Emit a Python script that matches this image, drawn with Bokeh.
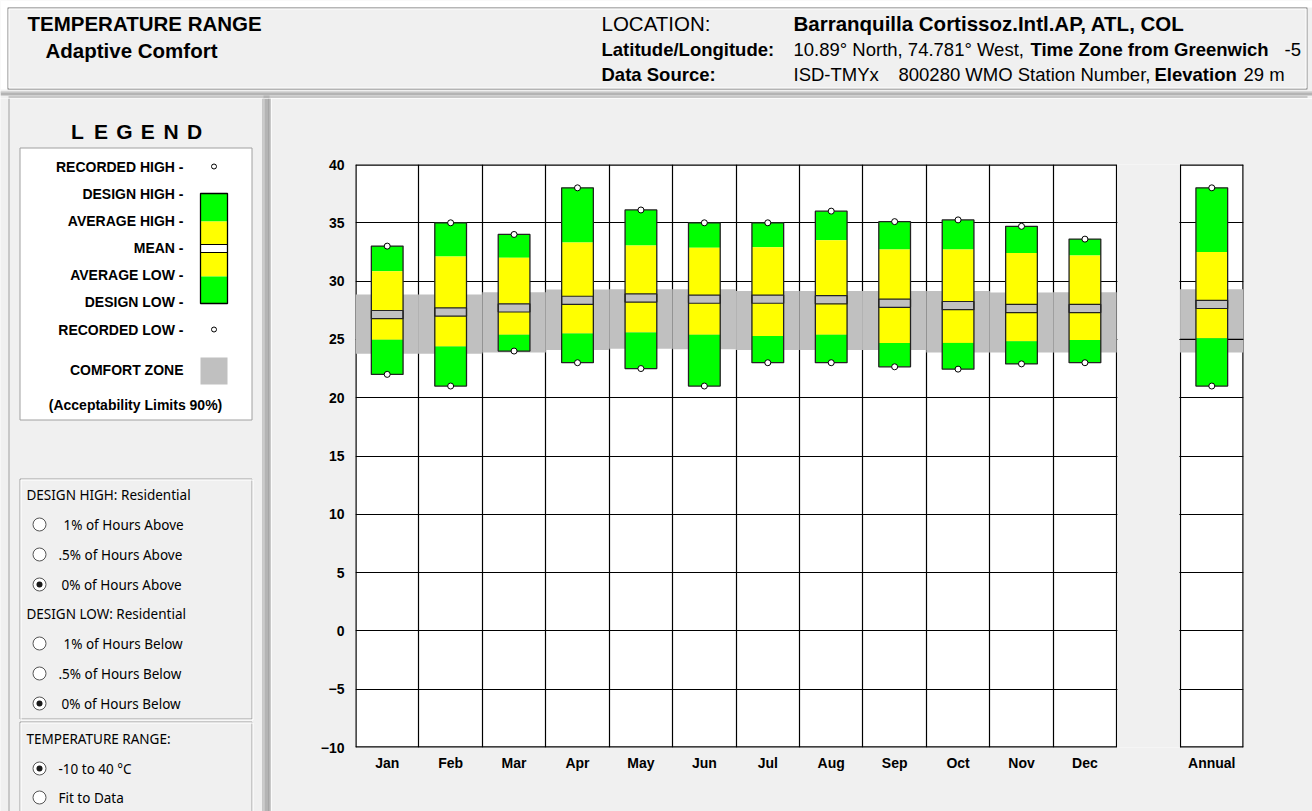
from bokeh.plotting import figure
from bokeh.layouts import column, row
from bokeh.models import Range1d, FixedTicker
from bokeh.embed import file_html
from bokeh.resources import INLINE
from bokeh.core.properties import value

# ---------------- data ----------------
months = ["Jan", "Feb", "Mar", "Apr", "May", "Jun", "Jul", "Aug", "Sep", "Oct", "Nov", "Dec"]
categories = months + ["Annual"]
recorded_high = [33.0, 35.0, 34.0, 38.0, 36.1, 35.0, 35.0, 36.0, 35.1, 35.25, 34.7, 33.6, 38.0]
design_high = [33.0, 35.0, 34.0, 38.0, 36.1, 35.0, 35.0, 36.0, 35.1, 35.25, 34.7, 33.6, 38.0]
average_high = [30.85, 32.1, 32.0, 33.3, 33.05, 32.85, 32.9, 33.5, 32.7, 32.7, 32.4, 32.2, 32.5]
mean_temp = [27.13, 27.35, 27.7, 28.35, 28.55, 28.45, 28.45, 28.4, 28.1, 27.9, 27.65, 27.65, 28.0]
average_low = [24.96, 24.4, 25.4, 25.5, 25.6, 25.4, 25.3, 25.4, 24.7, 24.7, 24.85, 24.95, 25.1]
design_low = [22.0, 21.0, 24.0, 23.0, 22.5, 21.0, 23.0, 23.0, 22.65, 22.45, 22.9, 23.0, 21.0]
recorded_low = [22.0, 21.0, 24.0, 23.0, 22.5, 21.0, 23.0, 23.0, 22.65, 22.45, 22.9, 23.0, 21.0]
comfort_high = [28.85, 28.85, 29.04, 29.27, 29.3, 29.3, 29.16, 29.16, 29.16, 29.16, 29.02, 29.04, 29.3]
comfort_low = [23.76, 23.76, 23.88, 24.1, 24.19, 24.16, 24.1, 24.1, 24.1, 23.88, 23.88, 23.88, 23.88]
y_ticks = [-10, -5, 0, 5, 10, 15, 20, 25, 30, 35, 40]

# ---------------- styles ----------------
BG = "#f0f0f0"
GREEN = "#00ff00"
YELLOW = "#ffff00"
GREY = "#c0c0c0"
EDGE = "#a0a0a0"
ARIAL = value("Liberation Sans")
UI = value("Noto Sans")
MEAN_HALF = 0.35


def no_align(f):
    try:
        f.frame_align = False
    except Exception:
        pass


def deco_fig(w, h):
    f = figure(width=w, height=h, x_range=Range1d(0, w), y_range=Range1d(h, 0),
               min_border=0, toolbar_location=None, output_backend="svg",
               x_axis_type=None, y_axis_type=None)
    f.grid.visible = False
    f.outline_line_color = None
    f.background_fill_color = BG
    f.border_fill_color = BG
    no_align(f)
    return f


def htext(f, x, y, t, size, bold=False, align="left", font=ARIAL):
    f.text(x=[x], y=[y], text=[t], text_font=font, text_font_size=size,
           text_font_style="bold" if bold else "normal", text_align=align,
           text_baseline="middle", text_color="black")


# ---------------- header (page y 0..98) ----------------
H = deco_fig(1312, 98)
H.quad(left=[0], right=[1312], top=[0], bottom=[7], fill_color="white", line_color=None)
H.quad(left=[0], right=[7], top=[0], bottom=[89], fill_color="white", line_color=None)
H.quad(left=[7.5], right=[1306.5], top=[7.5], bottom=[88.5], fill_color=BG, line_color=EDGE, line_width=1.3)
H.quad(left=[8.5], right=[1305.5], top=[8.5], bottom=[87.5], fill_color=None, line_color="white", line_width=1)
H.quad(left=[0], right=[1312], top=[91], bottom=[95], fill_color="#b4b4b4", line_color=None)
H.segment(x0=[0], x1=[1312], y0=[91.5], y1=[91.5], line_color="#dcdcdc", line_width=1)
H.segment(x0=[8], x1=[1307], y0=[96.5], y1=[96.5], line_color=EDGE, line_width=1)
H.quad(left=[263], right=[269], top=[95], bottom=[98], fill_color="#b4b4b4", line_color=None)

htext(H, 27, 23, "TEMPERATURE RANGE", "20.5px", True)
htext(H, 45, 50, "Adaptive Comfort", "20.5px", True)
htext(H, 601, 23, "LOCATION:", "20.5px", False)
htext(H, 793, 23, "Barranquilla Cortissoz.Intl.AP, ATL, COL", "20.5px", True)
htext(H, 601, 49, "Latitude/Longitude:", "18.5px", True)
htext(H, 793, 49, "10.89° North, 74.781° West,", "18.5px", False)
htext(H, 1030, 49, "Time Zone from Greenwich", "18.5px", True)
htext(H, 1284, 49, "-5", "18.5px", False)
htext(H, 601, 74, "Data Source:", "18.5px", True)
htext(H, 793, 74, "ISD-TMYx", "18.5px", False)
htext(H, 898, 74, "800280 WMO Station Number,", "18.5px", False)
htext(H, 1154, 74, "Elevation", "18.5px", True)
htext(H, 1243, 74, "29 m", "18.5px", False)

# ---------------- left panel (page x 0..271, y 98..811) ----------------
L = deco_fig(271, 713)
L.segment(x0=[8.5], x1=[8.5], y0=[0], y1=[713], line_color=EDGE)
L.segment(x0=[262.5], x1=[262.5], y0=[0], y1=[713], line_color=EDGE)
L.quad(left=[263], right=[269], top=[0], bottom=[713], fill_color="#b4b4b4", line_color=None)
L.segment(x0=[263.5], x1=[263.5], y0=[0], y1=[713], line_color="#d8d8d8")
L.segment(x0=[268.5], x1=[268.5], y0=[0], y1=[713], line_color="#999999")
L.segment(x0=[270.5], x1=[270.5], y0=[0], y1=[713], line_color=EDGE)

legend_letters = ["L", "E", "G", "E", "N", "D"]
L.text(x=[77, 100.4, 123.8, 147.2, 170.6, 194], y=[33] * 6, text=legend_letters,
       text_font=ARIAL, text_font_size="21px", text_font_style="bold",
       text_align="center", text_baseline="middle")

L.quad(left=[19.5], right=[251.5], top=[49.5], bottom=[321.5], fill_color="white", line_color=EDGE)
legend_labels = ["RECORDED HIGH -", "DESIGN HIGH -", "AVERAGE HIGH -", "MEAN -",
                 "AVERAGE LOW -", "DESIGN LOW -", "RECORDED LOW -"]
L.text(x=[183] * 7, y=[68, 95, 122, 149, 176, 203, 231], text=legend_labels,
       text_font=ARIAL, text_font_size="14px", text_font_style="bold",
       text_align="right", text_baseline="middle")
htext(L, 183, 271, "COMFORT ZONE", "14px", True, "right")
htext(L, 135, 306, "(Acceptability Limits 90%)", "14px", True, "center")
L.quad(left=[200] * 5, right=[227] * 5, top=[95, 123, 146, 154, 178], bottom=[123, 146, 154, 178, 205],
       fill_color=[GREEN, YELLOW, "white", YELLOW, GREEN], line_color=None)
L.quad(left=[200], right=[227], top=[146], bottom=[154], fill_color=None, line_color="black", line_width=1)
L.quad(left=[200], right=[227], top=[95], bottom=[205], fill_color=None, line_color="black", line_width=1.3)
L.scatter(x=[213.5, 213.5], y=[68, 231], marker="circle", size=5, fill_color="white", line_color="black")
L.quad(left=[200], right=[227], top=[259], bottom=[286], fill_color=GREY, line_color=None)

for top, bottom in [(380, 620), (623, 730)]:
    L.quad(left=[19.5], right=[251.5], top=[top + 0.5], bottom=[bottom + 0.5], fill_color=None, line_color=EDGE)
    L.quad(left=[20.5], right=[252.5], top=[top + 1.5], bottom=[bottom + 1.5], fill_color=None, line_color="white")

ui_heads = ["DESIGN HIGH:  Residential", "DESIGN LOW:  Residential", "TEMPERATURE RANGE:"]
ui_heads_y = [396, 515, 640]
for t, yy in zip(ui_heads, ui_heads_y):
    htext(L, 26, yy, t, "13.5px", False, "left", UI)

radio_y = [426, 456, 486, 545, 575, 605, 670, 699]
radio_x_text = [63, 58, 61, 63, 58, 61, 58, 58]
radio_labels = ["1% of Hours Above", ".5% of Hours Above", "0% of Hours Above",
                "1% of Hours Below", ".5% of Hours Below", "0% of Hours Below",
                "-10 to 40 °C", "Fit to Data"]
radio_selected = [False, False, True, False, False, True, True, False]
L.scatter(x=[39] * 8, y=radio_y, marker="circle", size=13, fill_color="white", line_color="#555555", line_width=1)
L.scatter(x=[39] * 3, y=[yy for yy, s in zip(radio_y, radio_selected) if s], marker="circle",
          size=6, fill_color="#1a1a1a", line_color=None)
for xx, yy, t in zip(radio_x_text, radio_y, radio_labels):
    htext(L, xx, yy, t, "13.5px", False, "left", UI)

# ---------------- main chart (page x 271..1312, y 98..811) ----------------
col_left = [i for i in range(12)] + [13]
centers = [c + 0.5 for c in col_left]

P = figure(width=1041, height=713, x_range=Range1d(0, 14), y_range=Range1d(-10, 40),
           min_border_left=84, min_border_right=69, min_border_top=66, min_border_bottom=64,
           toolbar_location=None, output_backend="svg")
no_align(P)
P.background_fill_color = "white"
P.border_fill_color = BG
P.outline_line_color = None

P.xgrid.ticker = FixedTicker(ticks=list(range(0, 15)))
P.ygrid.ticker = FixedTicker(ticks=y_ticks)
P.grid.grid_line_color = "black"
P.grid.grid_line_width = 1.2
P.grid.grid_line_alpha = 1.0

P.yaxis.ticker = FixedTicker(ticks=y_ticks)
P.xaxis.ticker = FixedTicker(ticks=centers)
P.xaxis.major_label_overrides = {c: n for c, n in zip(centers, categories)}
for ax in (P.xaxis, P.yaxis):
    ax.axis_line_color = None
    ax.major_tick_line_color = None
    ax.minor_tick_line_color = None
    ax.major_label_text_font = "Liberation Sans"
    ax.major_label_text_font_size = "14px"
    ax.major_label_text_font_style = "bold"
    ax.major_label_text_color = "black"
P.yaxis.major_label_standoff = 5
P.xaxis.major_label_standoff = 1

# gap between Dec and Annual
P.rect(x=[12.5], y=[15], width=62, width_units="screen", height=52, fill_color=BG, line_color=None)
# frame edges of the two boxes
P.segment(x0=[0, 13, 0, 13], x1=[12, 14, 12, 14], y0=[40, 40, -10, -10], y1=[40, 40, -10, -10],
          line_color="black", line_width=2.4)
P.segment(x0=[0, 14], x1=[0, 14], y0=[-10, -10], y1=[40, 40], line_color="black", line_width=2.4)

# comfort zone
P.quad(left=col_left, right=[c + 1 for c in col_left], bottom=comfort_low, top=comfort_high,
       fill_color=GREY, line_color=None)
P.segment(x0=[13], x1=[14], y0=[25], y1=[25], line_color="black", line_width=1.2)

bl = [c - 0.25 for c in centers]
br = [c + 0.25 for c in centers]
mean_top = [m + MEAN_HALF for m in mean_temp]
mean_bot = [m - MEAN_HALF for m in mean_temp]
P.quad(left=bl, right=br, bottom=average_high, top=design_high, fill_color=GREEN, line_color=None)
P.quad(left=bl, right=br, bottom=mean_top, top=average_high, fill_color=YELLOW, line_color=None)
P.quad(left=bl, right=br, bottom=average_low, top=mean_bot, fill_color=YELLOW, line_color=None)
P.quad(left=bl, right=br, bottom=design_low, top=average_low, fill_color=GREEN, line_color=None)
P.quad(left=bl, right=br, bottom=mean_bot, top=mean_top, fill_color=None, line_color="#222222", line_width=1.2)
P.quad(left=bl, right=br, bottom=design_low, top=design_high, fill_color=None, line_color="#222222", line_width=1.3)
P.scatter(x=centers, y=recorded_high, marker="circle", size=6, fill_color="white", line_color="black", line_width=1)
P.scatter(x=centers, y=recorded_low, marker="circle", size=6, fill_color="white", line_color="black", line_width=1)

layout = column(H, row(L, P, spacing=0), spacing=0)
open("out.html", "w").write(file_html(layout, INLINE))
